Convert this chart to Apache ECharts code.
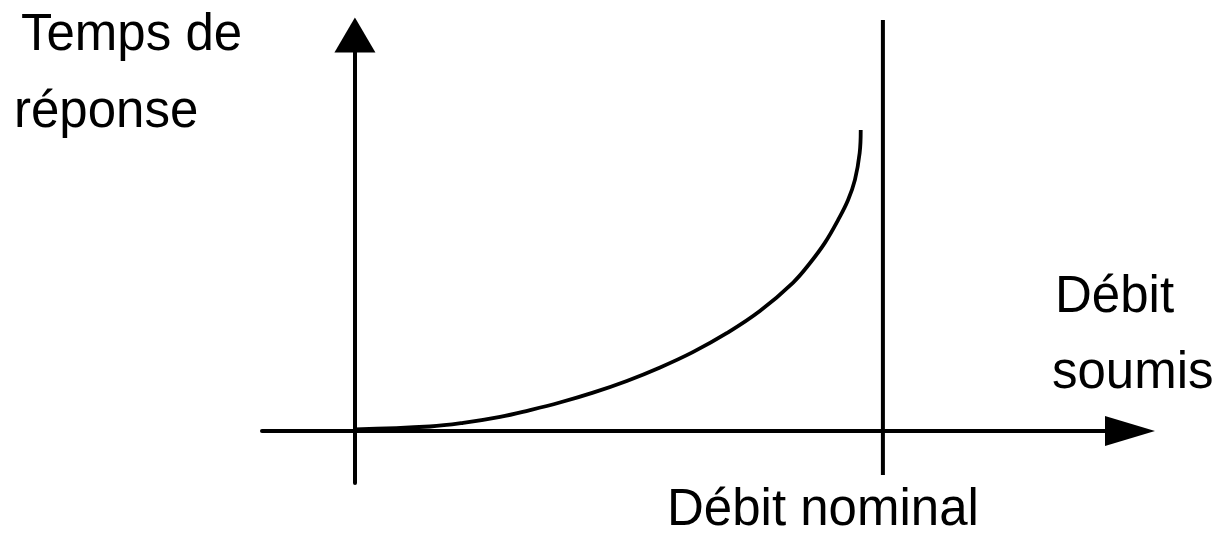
<!DOCTYPE html>
<html>
<head>
<meta charset="utf-8">
<script src="https://cdn.jsdelivr.net/npm/echarts@6/dist/echarts.min.js"></script>
<style>html,body{margin:0;padding:0;background:#fff}#c{width:1217px;height:534px}</style>
</head>
<body>
<div id="c"></div>
<script>
// Data (debit relative to nominal, response time in arbitrary units)
const debitSoumis = [0, 0.142, 0.205, 0.275, 0.330, 0.388, 0.451, 0.515, 0.578, 0.640, 0.705, 0.767, 0.830, 0.862, 0.890, 0.915, 0.934, 0.947, 0.956, 0.958];
const tempsReponse = [0.005, 0.015, 0.027, 0.047, 0.069, 0.095, 0.128, 0.167, 0.212, 0.263, 0.327, 0.400, 0.495, 0.560, 0.627, 0.703, 0.770, 0.837, 0.927, 1.003];
const debitNominal = 1;
const nominalLineY = [-0.147, 1.37];
const yLabelLines = ['Temps de', 'réponse'];
const xLabelLines = ['Débit', 'soumis'];
const nominalLabel = 'Débit nominal';

const chart = echarts.init(document.getElementById('c'), null, {renderer: 'canvas'});
const FONT = '51px "Liberation Sans", Arial, sans-serif';
const curveData = debitSoumis.map((x, i) => [x, tempsReponse[i]]);

function txt(text, x, y) {
  return {type: 'text', x: x, y: y, style: {text: text, font: FONT, fill: '#000', textAlign: 'left', textVerticalAlign: 'middle'}};
}

chart.setOption({
  animation: false,
  backgroundColor: '#fff',
  grid: {left: 262, right: 87, top: 35, bottom: 51},
  xAxis: {
    type: 'value', min: -0.176, max: 1.468,
    axisLine: {onZero: true, lineStyle: {color: '#000', width: 4}, symbol: ['none', 'triangle'], symbolSize: [30, 50]},
    axisTick: {show: false}, axisLabel: {show: false}, splitLine: {show: false}
  },
  yAxis: {
    type: 'value', min: -0.1733, max: 1.32,
    axisLine: {onZero: true, lineStyle: {color: '#000', width: 4}, symbol: ['none', 'triangle'], symbolSize: [41, 35]},
    axisTick: {show: false}, axisLabel: {show: false}, splitLine: {show: false}
  },
  series: [
    {
      type: 'line', data: curveData, smooth: 0.4, showSymbol: false, symbol: 'none',
      lineStyle: {color: '#000', width: 3.8}, z: 5
    },
    {
      type: 'line', data: [[debitNominal, nominalLineY[0]], [debitNominal, nominalLineY[1]]],
      showSymbol: false, symbol: 'none', clip: false,
      lineStyle: {color: '#000', width: 4}, z: 5
    }
  ],
  graphic: [
    txt(yLabelLines[0], 21, 36),
    txt(yLabelLines[1], 14, 113),
    txt(xLabelLines[0], 1055, 298),
    txt(xLabelLines[1], 1052, 374),
    txt(nominalLabel, 667, 511)
  ]
});
</script>
</body>
</html>
